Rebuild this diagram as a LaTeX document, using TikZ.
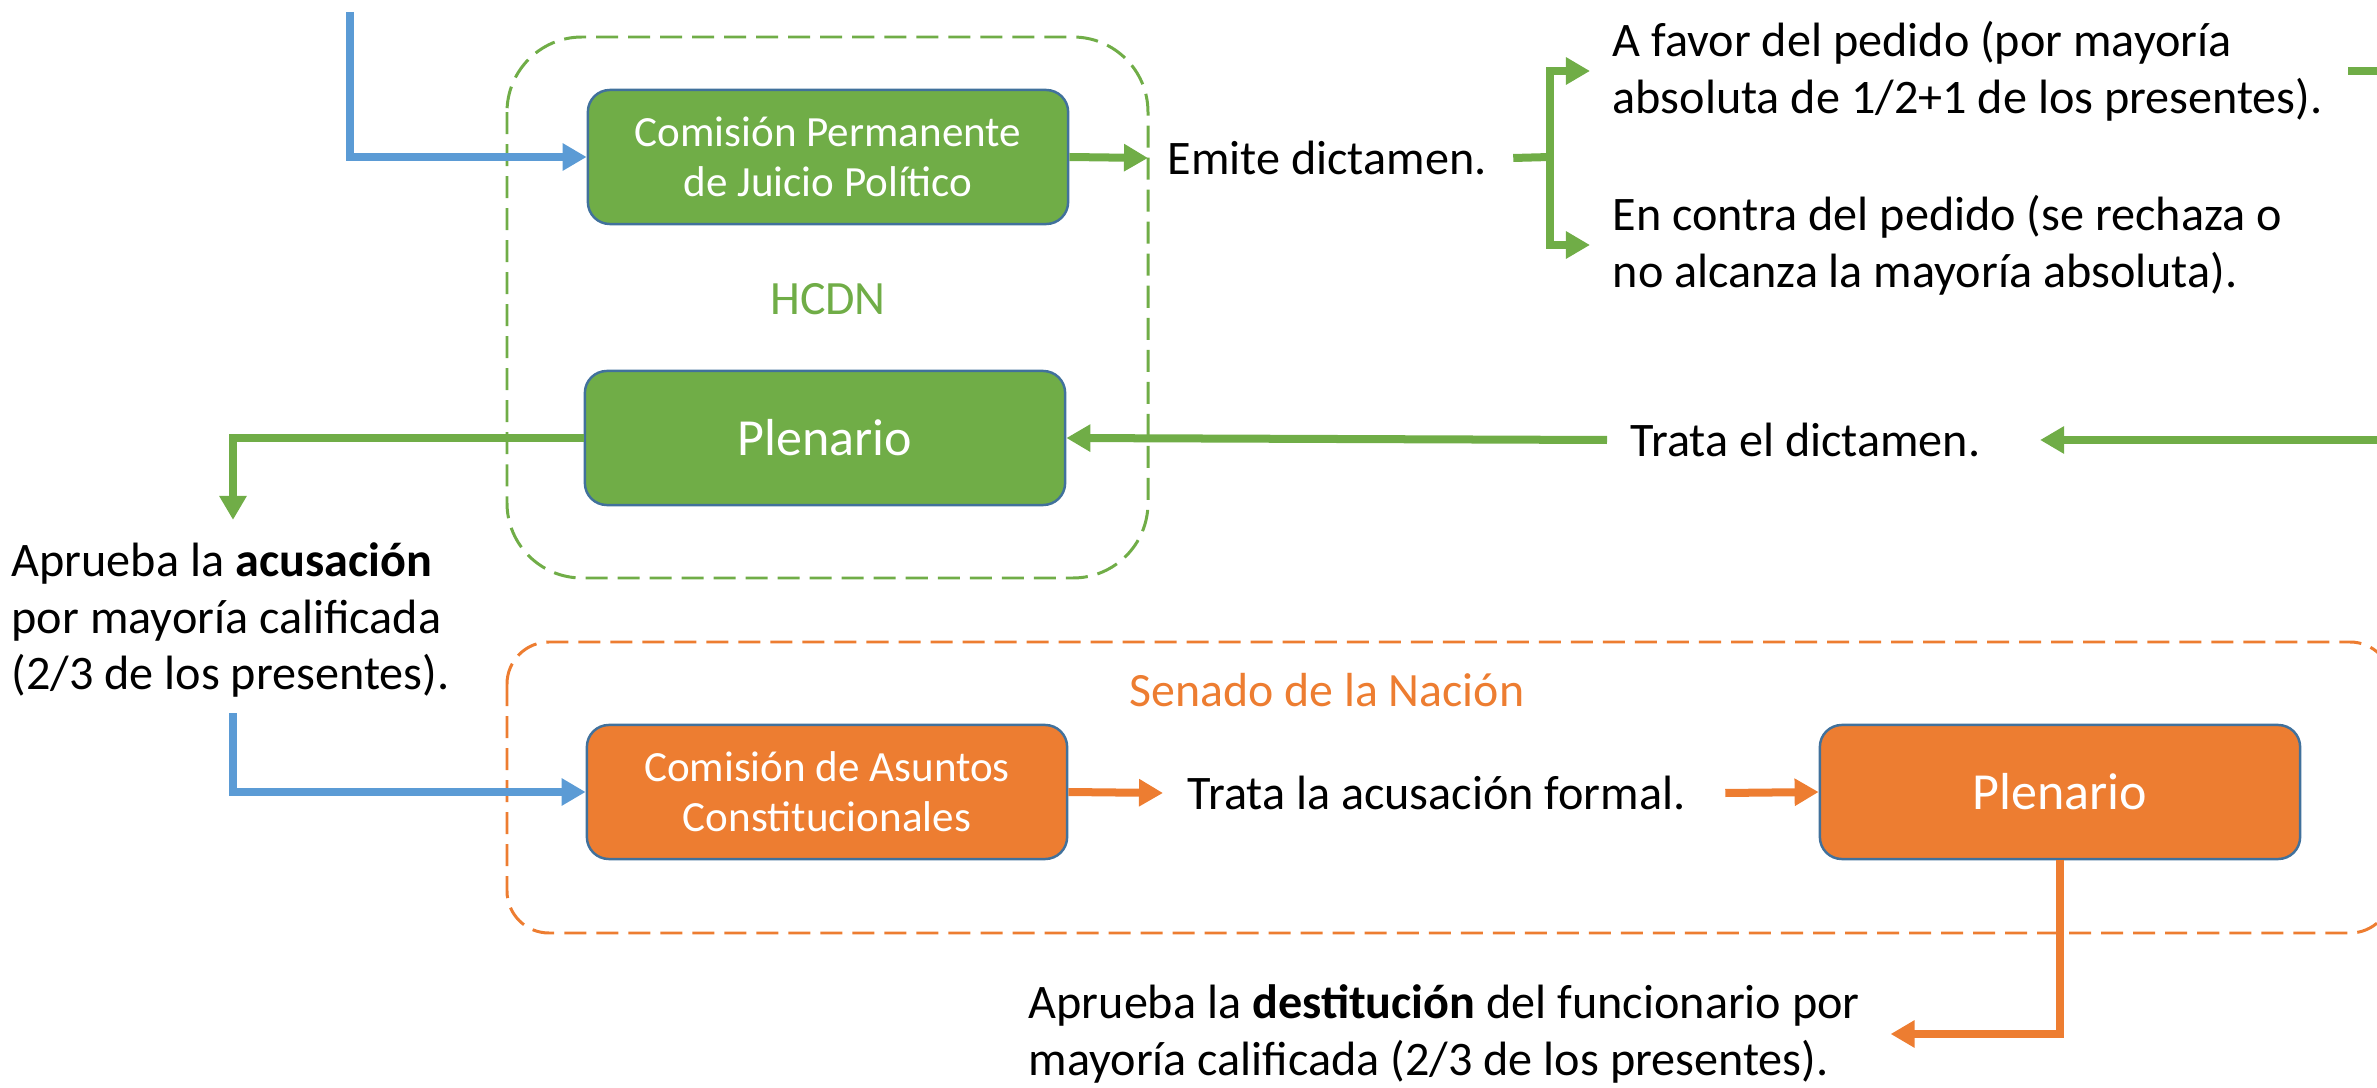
\documentclass[tikz,border=0pt]{standalone}
\usepackage{fontspec}
\setmainfont{Carlito}
\usetikzlibrary{arrows.meta,positioning,calc}
\definecolor{greenC}{HTML}{70AD47}
\definecolor{orangeC}{HTML}{ED7D31}
\definecolor{blueC}{HTML}{5B9BD5}
\definecolor{borderC}{HTML}{41719C}

\begin{document}
\begin{tikzpicture}
  [x=0.01cm,y=-0.01cm,
   boxN/.style={rectangle,rounded corners=0.22cm,draw=borderC,line width=0.7pt,
     minimum width=4.8cm,minimum height=1.34cm,text=white,align=center},
   greenN/.style={boxN,fill=greenC},
   orangeN/.style={boxN,fill=orangeC},
   smallT/.style={font=\fontsize{12.25}{14.2}\selectfont},
   bigT/.style={font=\fontsize{14.8}{17}\selectfont},
   groupT/.style={font=\fontsize{13.6}{15}\selectfont},
   textN/.style={inner sep=0,align=left,font=\fontsize{13.7}{16.1}\selectfont},
   groupN/.style={line width=0.85pt,dash pattern=on 0.22cm off 0.1cm},
   flowN/.style={line width=0.08cm,-{Triangle[length=0.24cm,width=0.26cm]}}]

  \useasboundingbox (0,0) rectangle (2377,1088);
  \clip (0,0) rectangle (2377,1088);

  % HCDN
  \draw[groupN,draw=greenC,rounded corners=0.75cm] (507,37) rectangle (1148,578);
  \node[greenN,smallT] (comPerm) at (828,157) {Comisión Permanente\\de Juicio Político};
  \node[groupT,text=greenC] (hcdn) at (828,299) {HCDN};
  \node[greenN,bigT] (plenD) at (825,438) {Plenario};

  \node[textN,anchor=west] (emite)  at (1167,158) {Emite dictamen.};
  \node[textN,anchor=west] (favor)  at (1612,71)  {A favor del pedido (por mayoría\\absoluta de 1/2+1 de los presentes).};
  \node[textN,anchor=west] (contra) at (1612,245) {En contra del pedido (se rechaza o\\no alcanza la mayoría absoluta).};
  \node[textN,anchor=west] (trataD) at (1630,440) {Trata el dictamen.};
  \node[textN,anchor=west] (acus) at (11,620) {Aprueba la \textbf{acusación}\\por mayoría calificada\\(2/3 de los presentes).};

  \coordinate (inicio) at (350,12);
  \coordinate (split) at (1550,157);

  \draw[flowN,blueC] (inicio) |- (comPerm.west);
  \draw[flowN,greenC] (comPerm.east) -- ($(emite.west)+(-19,0)$);
  \draw[greenC,line width=0.08cm] ($(emite.east)+(26,0)$) -- (split);
  \draw[flowN,greenC] (split) |- ($(favor.west)+(-22,0)$);
  \draw[flowN,greenC] (split) |- ($(contra.west)+(-22,0)$);
  \draw[flowN,greenC] ($(favor.east)+(25,0)$) -- ++(120,0) |- ($(trataD.east)+(59,0)$);
  \draw[flowN,greenC] ($(trataD.west)+(-23,0)$) -- (plenD.east);
  \draw[flowN,greenC] (plenD.west) -| ($(acus.north west)+(222,-22)$);

  % Senado
  \draw[groupN,draw=orangeC,rounded corners=0.42cm] (507,642) rectangle (2392,933);
  \node[groupT,text=orangeC] (senado) at (1327,690) {Senado de la Nación};
  \node[orangeN,smallT] (comAs) at (827,792) {Comisión de Asuntos\\Constitucionales};
  \node[textN,anchor=west] (trataA) at (1187,793) {Trata la acusación formal.};
  \node[orangeN,bigT] (plenS) at (2060,792) {Plenario};
  \node[textN,anchor=west] (destit) at (1028,1034) {Aprueba la \textbf{destitución} del funcionario por\\mayoría calificada (2/3 de los presentes).};

  \draw[flowN,blueC] ($(acus.south west)+(222,15)$) |- (comAs.west);
  \draw[flowN,orangeC] (comAs.east) -- ($(trataA.west)+(-24,0)$);
  \draw[flowN,orangeC] ($(trataA.east)+(39,0)$) -- (plenS.west);
  \draw[flowN,orangeC] (plenS.south) |- ($(destit.east)+(30,0)$);

\end{tikzpicture}
\end{document}
